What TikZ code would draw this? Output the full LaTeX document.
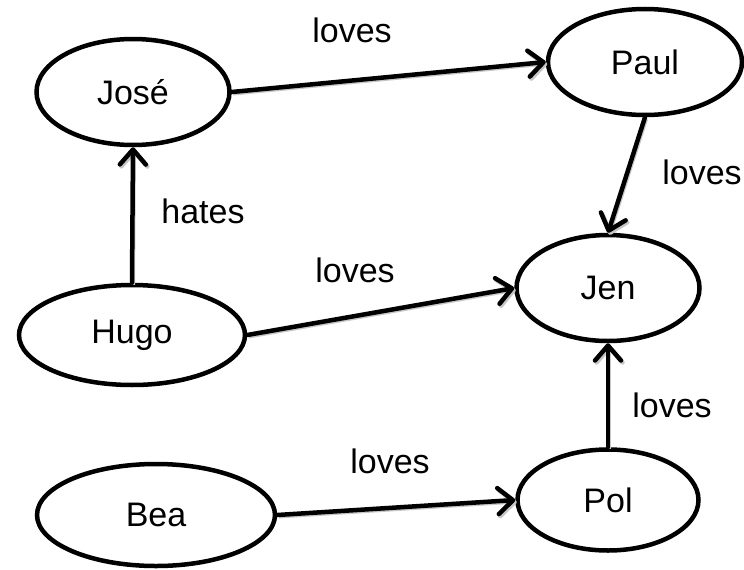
\documentclass[tikz,border=0pt]{standalone}
\usepackage{fontspec}
\setmainfont{Liberation Sans}
\usetikzlibrary{shapes.geometric,arrows.meta}

\tikzset{
  person/.style={ellipse, draw=black, line width=4.5pt, fill=white, inner sep=0pt,
    font=\fontsize{34}{40}\selectfont},
  rel/.style={line width=4.5pt, line cap=round,
    -{Straight Barb[length=15pt, width=26pt, line width=4.5pt, line cap=round, round]},
    preaction={draw=black!22, line width=3pt, transform canvas={shift={(1.5pt,-2pt)}}}},
  lbl/.style={inner sep=0pt, font=\fontsize{34}{40}\selectfont}
}

\begin{document}
\begin{tikzpicture}[x=1pt, y=-1pt]
  \useasboundingbox (0,0) rectangle (744,570);

  % people
  \node[person, minimum width=193pt, minimum height=106pt] (jose) at (133,92)  {José};
  \node[person, minimum width=194pt, minimum height=106pt] (paul) at (645,62)  {Paul};
  \node[person, minimum width=183pt, minimum height=106pt] (jen)  at (608,288) {Jen};
  \node[person, minimum width=226pt, minimum height=100pt] (hugo) at (132,335) {Hugo};
  \node[person, minimum width=238pt, minimum height=102pt] (bea)  at (156,515) {Bea};
  \node[person, minimum width=181pt, minimum height=101pt] (pol)  at (608,500) {Pol};

  % relations
  \draw[rel] (jose.east)  -- (paul.west);
  \draw[rel] (paul.south) -- (jen.north);
  \draw[rel] (hugo.north) -- (jose.south);
  \draw[rel] (hugo.east)  -- (jen.west);
  \draw[rel] (bea.east)   -- (pol.west);
  \draw[rel] (pol.north)  -- (jen.south);

  % relation labels
  \node[lbl] (l1) at (352,30)  {loves};
  \node[lbl] (l2) at (702,172) {loves};
  \node[lbl] (l3) at (203,211) {hates};
  \node[lbl] (l4) at (355,270) {loves};
  \node[lbl] (l5) at (390,461) {loves};
  \node[lbl] (l6) at (672,405) {loves};
\end{tikzpicture}
\end{document}
